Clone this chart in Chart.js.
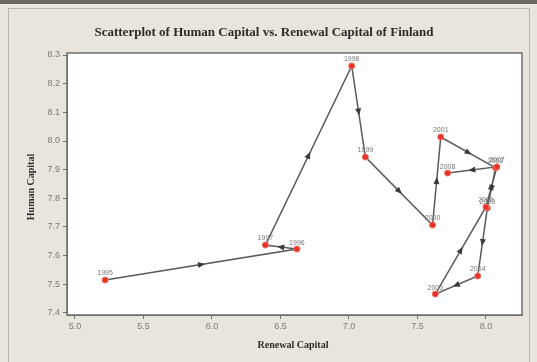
<!DOCTYPE html>
<html lang="en">

<head>
    <meta charset="UTF-8">
    <title>Human Capital vs. Renewal Capital</title>
    <style>
        html, body { margin: 0; padding: 0; background: #e9e5dd; }
        #wrap { width: 537px; height: 362px; }
    </style>
</head>

<body>
    <div id="wrap"><canvas id="Chart" width="537" height="362"></canvas></div>

    <script src="https://cdn.jsdelivr.net/npm/chart.js@4/dist/chart.umd.min.js"></script>
    <script>
        // years and the two capital indices for Finland
        const years = ["1995", "1996", "1997", "1998", "1999", "2000", "2001",
            "2002", "2003", "2004", "2005", "2006", "2007", "2008"];
        const renewalCapital = [5.22, 6.62, 6.39, 7.02, 7.12, 7.61, 7.67,
            8.07, 8.01, 7.94, 7.63, 8.00, 8.08, 7.72];
        const humanCapital = [7.515, 7.623, 7.637, 8.262, 7.944, 7.707, 8.014,
            7.906, 7.766, 7.529, 7.466, 7.77, 7.91, 7.888];

        const xTicks = [5.0, 5.5, 6.0, 6.5, 7.0, 7.5, 8.0];
        const yTicks = [7.4, 7.5, 7.6, 7.7, 7.8, 7.9, 8.0, 8.1, 8.2, 8.3];

        const points = years.map((y, i) => ({ x: renewalCapital[i], y: humanCapital[i] }));

        // background, outer frame, titles, arrows and year labels
        const decor = {
            id: "decor",
            beforeDraw(chart) {
                const c = chart.ctx;
                c.save();
                c.fillStyle = "#e9e5dd";
                c.fillRect(0, 0, chart.width, chart.height);
                c.fillStyle = "#6b6862";
                c.fillRect(0, 0, chart.width, 4);
                c.strokeStyle = "#b9b5ad";
                c.lineWidth = 1;
                c.strokeRect(8.5, 8.5, 521, 360);
                const a = chart.chartArea;
                c.fillStyle = "#ffffff";
                c.fillRect(a.left, a.top, a.right - a.left, a.bottom - a.top);
                c.restore();
            },
            afterDraw(chart) {
                const c = chart.ctx;
                const a = chart.chartArea;
                c.save();
                c.strokeStyle = "#6e6e6e";
                c.lineWidth = 1.5;
                c.strokeRect(a.left, a.top, a.right - a.left, a.bottom - a.top);

                c.fillStyle = "#2b2b2b";
                c.textAlign = "center";
                c.textBaseline = "middle";
                c.font = "bold 13px 'Liberation Serif', 'DejaVu Serif', serif";
                c.fillText("Scatterplot of Human Capital vs. Renewal Capital of Finland", 264, 33);
                c.font = "bold 10px 'Liberation Serif', 'DejaVu Serif', serif";
                c.fillText("Renewal Capital", 293, 345);
                c.translate(31, 187);
                c.rotate(-Math.PI / 2);
                c.fillText("Human Capital", 0, 0);
                c.restore();

                // arrowheads at the middle of each segment
                const els = chart.getDatasetMeta(0).data;
                c.save();
                c.fillStyle = "#3a3a3a";
                for (let i = 0; i < els.length - 1; i++) {
                    const p = els[i], q = els[i + 1];
                    const mx = (p.x + q.x) / 2, my = (p.y + q.y) / 2;
                    const ang = Math.atan2(q.y - p.y, q.x - p.x);
                    c.save();
                    c.translate(mx, my);
                    c.rotate(ang);
                    c.beginPath();
                    c.moveTo(4, 0);
                    c.lineTo(-3, -3);
                    c.lineTo(-3, 3);
                    c.closePath();
                    c.fill();
                    c.restore();
                }

                c.font = "7px 'Liberation Sans', 'DejaVu Sans', sans-serif";
                c.fillStyle = "#777777";
                c.textAlign = "center";
                c.textBaseline = "bottom";
                els.forEach((el, i) => {
                    c.fillText(years[i], el.x, el.y - 3);
                });
                c.restore();
            }
        };

        const ctx = document.getElementById("Chart").getContext("2d");
        const chart = new Chart(ctx, {
            type: "scatter",
            data: {
                datasets: [{
                    data: points,
                    showLine: true,
                    borderColor: "#5a5a5a",
                    borderWidth: 1.5,
                    pointRadius: 3,
                    pointBackgroundColor: "#e8302a",
                    pointBorderColor: "#f07060",
                    pointBorderWidth: 1,
                    tension: 0,
                }],
            },
            options: {
                responsive: false,
                animation: false,
                layout: { padding: { left: 0, right: 15, top: 53, bottom: 0 } },
                plugins: {
                    legend: { display: false },
                    tooltip: { enabled: false },
                },
                scales: {
                    x: {
                        type: "linear",
                        min: 4.942,
                        max: 8.263,
                        afterBuildTicks: (s) => { s.ticks = xTicks.map(v => ({ value: v })); },
                        afterFit: (s) => { s.height = 362 - 315; },
                        ticks: {
                            color: "#7a7a7a",
                            font: { size: 9, family: "'Liberation Sans', 'DejaVu Sans', sans-serif" },
                            padding: 2,
                            maxRotation: 0,
                            callback: (v) => v.toFixed(1),
                        },
                        grid: { drawOnChartArea: false, color: "#6e6e6e", tickLength: 4 },
                        border: { color: "#6e6e6e" },
                    },
                    y: {
                        type: "linear",
                        min: 7.393,
                        max: 8.307,
                        afterBuildTicks: (s) => { s.ticks = yTicks.map(v => ({ value: v })); },
                        afterFit: (s) => { s.width = 67; },
                        ticks: {
                            color: "#7a7a7a",
                            font: { size: 9, family: "'Liberation Sans', 'DejaVu Sans', sans-serif" },
                            padding: 3,
                            callback: (v) => v.toFixed(1),
                        },
                        grid: { drawOnChartArea: false, color: "#6e6e6e", tickLength: 4 },
                        border: { color: "#6e6e6e" },
                    },
                },
            },
            plugins: [decor],
        });
    </script>

</body>

</html>
